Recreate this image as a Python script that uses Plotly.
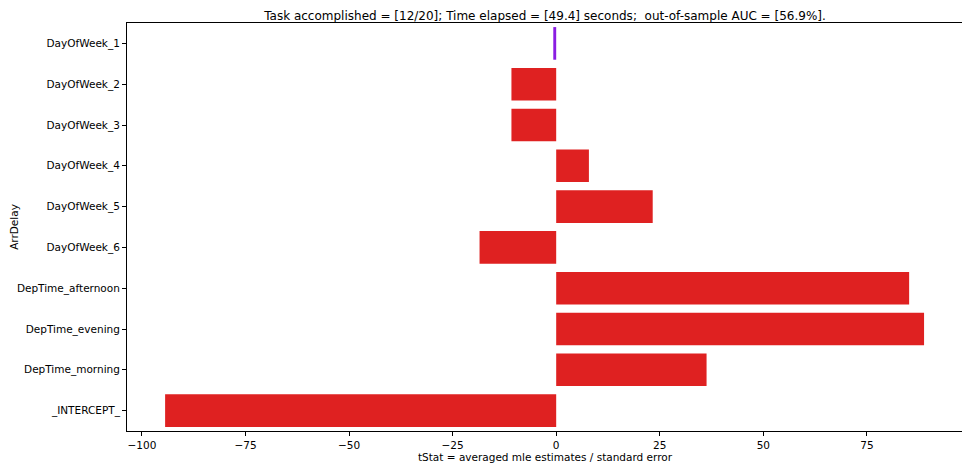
import plotly.graph_objects as go

# tStat per feature
features = ["DayOfWeek_1", "DayOfWeek_2", "DayOfWeek_3", "DayOfWeek_4", "DayOfWeek_5",
            "DayOfWeek_6", "DepTime_afternoon", "DepTime_evening", "DepTime_morning", "_INTERCEPT_"]
tstat = [-0.7, -10.8, -10.8, 7.9, 23.3, -18.5, 85.2, 88.8, 36.3, -94.4]
bar_colors = ["#8a1de2", "#df2121", "#df2121", "#df2121", "#df2121",
              "#df2121", "#df2121", "#df2121", "#df2121", "#df2121"]

title_txt = "Task accomplished = [12/20]; Time elapsed = [49.4] seconds;  out-of-sample AUC = [56.9%]."

fig = go.Figure(go.Bar(
    x=tstat,
    y=features,
    orientation="h",
    width=0.8,
    marker=dict(color=bar_colors, line=dict(width=0)),
))

# page body has an 8px margin, so the figure is sized down to fit the window
fig.update_layout(
    width=962, height=461,
    margin=dict(l=119, r=7, t=15, b=38, autoexpand=False),
    paper_bgcolor="white",
    plot_bgcolor="white",
    font=dict(family="DejaVu Sans", size=10.5, color="black"),
    showlegend=False,
    bargap=0.2,
    title=dict(text=title_txt, xref="paper", x=0.5, xanchor="center",
               yref="container", y=0.982, yanchor="middle",
               font=dict(size=12, color="black"), automargin=False),
)

fig.update_xaxes(
    automargin=False,
    range=[-103.6, 98.2],
    tickvals=[-100, -75, -50, -25, 0, 25, 50, 75],
    ticktext=["\u2212100", "\u221275", "\u221250", "\u221225", "0", "25", "50", "75"],
    ticks="outside", ticklen=4, tickcolor="black", tickwidth=1,
    showline=True, linecolor="black", linewidth=1, mirror=True,
    showgrid=False, zeroline=False,
    title=dict(text="tStat = averaged mle estimates / standard error", standoff=4,
               font=dict(size=10.5)),
)
fig.update_yaxes(
    automargin=False,
    type="category",
    range=[9.5, -0.5],
    ticks="outside", ticklen=4, tickcolor="black", tickwidth=1,
    showline=True, linecolor="black", linewidth=1, mirror=True,
    showgrid=False, zeroline=False,
    title=dict(text="ArrDelay", standoff=4, font=dict(size=10.5)),
)

fig.write_html("out.html")
